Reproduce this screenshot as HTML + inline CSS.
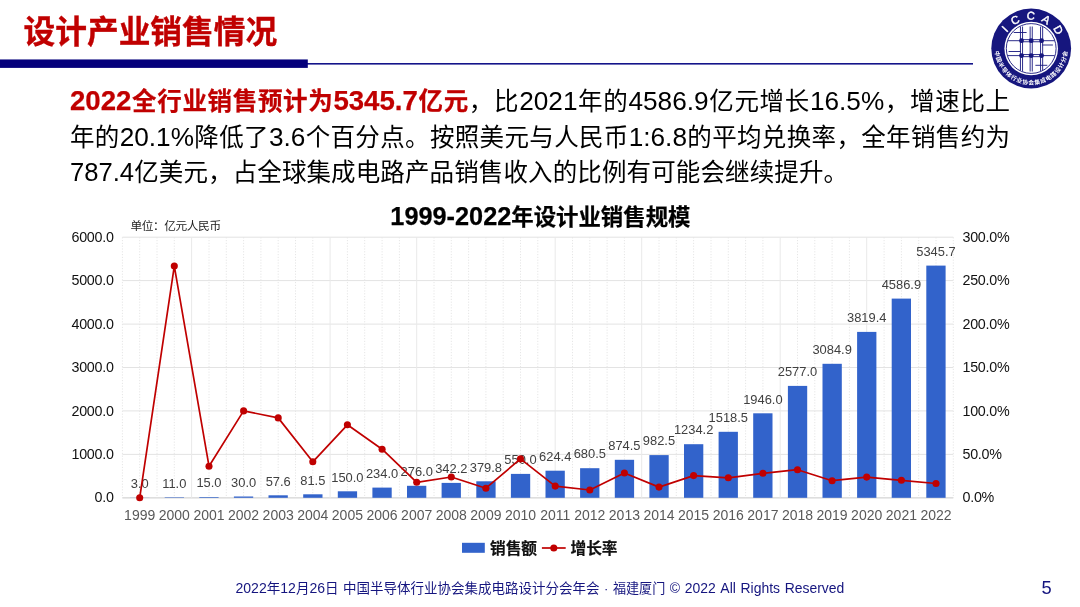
<!DOCTYPE html>
<html lang="zh-CN">
<head>
<meta charset="utf-8">
<title>设计产业销售情况</title>
<style>
html,body{margin:0;padding:0;background:#fff;}
body{width:1080px;height:607px;position:relative;overflow:hidden;font-family:"Liberation Sans","Noto Sans CJK SC",sans-serif;color:#000;}
.title{position:absolute;left:23.6px;top:9.3px;font-size:31.7px;-webkit-text-stroke:0.35px #c00000;font-weight:bold;color:#c00000;line-height:46px;white-space:nowrap;letter-spacing:0;}
.p{position:absolute;left:70px;width:940px;font-size:24.5px;line-height:36px;height:36px;white-space:nowrap;text-align:justify;text-align-last:justify;}
.p b{color:#c00000;-webkit-text-stroke:0.25px #c00000;}
.p i{font-style:normal;font-size:26.2px;}
.p b i{font-size:27.6px;}
.ct{position:absolute;left:0.4px;width:1080px;top:200.4px;text-align:center;font-size:22.4px;font-weight:bold;line-height:32px;white-space:nowrap;-webkit-text-stroke:0.25px #000;}
.ct i{font-style:normal;font-size:25.3px;}
.unit{position:absolute;left:130.4px;top:218px;font-size:11.7px;line-height:16px;color:#222;letter-spacing:-0.4px}
svg.chart,svg.logo{position:absolute;left:0;top:0;}
svg text{font-family:"Liberation Sans","Noto Sans CJK SC",sans-serif;}
.dl text{font-size:12.9px;fill:#404040;}
.ax text{font-size:14.3px;letter-spacing:-0.27px;fill:#111;}
.xl text{font-size:14px;fill:#595959;}
.lg{font-size:15.7px;font-weight:bold;fill:#111;stroke:#111;stroke-width:0.2px;}
.lt{font-size:11.2px;letter-spacing:6.3px;stroke:#fff;stroke-width:0.4px;}
.lb{font-size:5.8px;font-weight:bold;letter-spacing:0.62px;}
.foot{position:absolute;left:235.5px;top:578px;font-size:13.5px;word-spacing:0.8px;line-height:20px;color:#15157f;white-space:nowrap;}
.foot i{font-style:normal;font-size:14.05px;}
.foot u{text-decoration:none;font-size:13.1px;}
.foot i.r{font-size:13.95px;}
.pn{position:absolute;left:1041.4px;top:577px;font-size:18.3px;line-height:22px;color:#15157f;}
</style>
</head>
<body>
<div class="title">设计产业销售情况</div>
<div class="p" style="top:83px"><b><i>2022</i>全行业销售预计为<i>5345.7</i>亿元</b>，比<i>2021</i>年的<i>4586.9</i>亿元增长<i>16.5%</i>，增速比上</div>
<div class="p" style="top:118.7px">年的<i>20.1%</i>降低了<i>3.6</i>个百分点。按照美元与人民币<i>1:6.8</i>的平均兑换率，全年销售约为</div>
<div class="p" style="top:154.3px;width:778px"><i style="font-size:25.6px">787.4</i>亿美元，占全球集成电路产品销售收入的比例有可能会继续提升。</div>
<div class="ct"><i>1999-2022</i>年设计业销售规模</div>
<div class="unit">单位：亿元人民币</div>
<svg class="chart" width="1080" height="607" viewBox="0 0 1080 607">
<g stroke="#e3e3e3" stroke-width="1"><line x1="122.4" x2="953.3" y1="497.8" y2="497.8"/><line x1="122.4" x2="953.3" y1="454.4" y2="454.4"/><line x1="122.4" x2="953.3" y1="410.9" y2="410.9"/><line x1="122.4" x2="953.3" y1="367.5" y2="367.5"/><line x1="122.4" x2="953.3" y1="324.1" y2="324.1"/><line x1="122.4" x2="953.3" y1="280.6" y2="280.6"/><line x1="122.4" x2="953.3" y1="237.2" y2="237.2"/></g>
<line x1="122.4" x2="953.3" y1="497.8" y2="497.8" stroke="#dedede" stroke-width="1.5"/>
<g stroke="#e6e6e6" stroke-width="1" stroke-dasharray="1.2 1.6"><line x1="122.4" x2="122.4" y1="237.2" y2="497.8"/><line x1="139.7" x2="139.7" y1="237.2" y2="497.8"/><line x1="157.0" x2="157.0" y1="237.2" y2="497.8"/><line x1="174.3" x2="174.3" y1="237.2" y2="497.8"/><line x1="209.0" x2="209.0" y1="237.2" y2="497.8"/><line x1="226.3" x2="226.3" y1="237.2" y2="497.8"/><line x1="243.6" x2="243.6" y1="237.2" y2="497.8"/><line x1="260.9" x2="260.9" y1="237.2" y2="497.8"/><line x1="278.2" x2="278.2" y1="237.2" y2="497.8"/><line x1="295.5" x2="295.5" y1="237.2" y2="497.8"/><line x1="312.8" x2="312.8" y1="237.2" y2="497.8"/><line x1="347.4" x2="347.4" y1="237.2" y2="497.8"/><line x1="364.7" x2="364.7" y1="237.2" y2="497.8"/><line x1="382.1" x2="382.1" y1="237.2" y2="497.8"/><line x1="399.4" x2="399.4" y1="237.2" y2="497.8"/><line x1="434.0" x2="434.0" y1="237.2" y2="497.8"/><line x1="451.3" x2="451.3" y1="237.2" y2="497.8"/><line x1="468.6" x2="468.6" y1="237.2" y2="497.8"/><line x1="485.9" x2="485.9" y1="237.2" y2="497.8"/><line x1="503.2" x2="503.2" y1="237.2" y2="497.8"/><line x1="520.5" x2="520.5" y1="237.2" y2="497.8"/><line x1="537.8" x2="537.8" y1="237.2" y2="497.8"/><line x1="572.5" x2="572.5" y1="237.2" y2="497.8"/><line x1="589.8" x2="589.8" y1="237.2" y2="497.8"/><line x1="607.1" x2="607.1" y1="237.2" y2="497.8"/><line x1="624.4" x2="624.4" y1="237.2" y2="497.8"/><line x1="659.0" x2="659.0" y1="237.2" y2="497.8"/><line x1="676.3" x2="676.3" y1="237.2" y2="497.8"/><line x1="693.6" x2="693.6" y1="237.2" y2="497.8"/><line x1="711.0" x2="711.0" y1="237.2" y2="497.8"/><line x1="728.3" x2="728.3" y1="237.2" y2="497.8"/><line x1="745.6" x2="745.6" y1="237.2" y2="497.8"/><line x1="762.9" x2="762.9" y1="237.2" y2="497.8"/><line x1="797.5" x2="797.5" y1="237.2" y2="497.8"/><line x1="814.8" x2="814.8" y1="237.2" y2="497.8"/><line x1="832.1" x2="832.1" y1="237.2" y2="497.8"/><line x1="849.4" x2="849.4" y1="237.2" y2="497.8"/><line x1="884.1" x2="884.1" y1="237.2" y2="497.8"/><line x1="901.4" x2="901.4" y1="237.2" y2="497.8"/><line x1="918.7" x2="918.7" y1="237.2" y2="497.8"/><line x1="936.0" x2="936.0" y1="237.2" y2="497.8"/><line x1="953.3" x2="953.3" y1="237.2" y2="497.8"/></g>
<g stroke="#e9e9e9" stroke-width="1"><line x1="191.6" x2="191.6" y1="237.2" y2="497.8"/><line x1="330.1" x2="330.1" y1="237.2" y2="497.8"/><line x1="416.7" x2="416.7" y1="237.2" y2="497.8"/><line x1="555.2" x2="555.2" y1="237.2" y2="497.8"/><line x1="641.7" x2="641.7" y1="237.2" y2="497.8"/><line x1="780.2" x2="780.2" y1="237.2" y2="497.8"/><line x1="866.7" x2="866.7" y1="237.2" y2="497.8"/></g>
<g fill="#3263cb"><rect x="130.1" y="497.7" width="19.3" height="0.1"/><rect x="164.7" y="497.3" width="19.3" height="0.5"/><rect x="199.3" y="497.1" width="19.3" height="0.7"/><rect x="233.9" y="496.5" width="19.3" height="1.3"/><rect x="268.5" y="495.3" width="19.3" height="2.5"/><rect x="303.2" y="494.3" width="19.3" height="3.5"/><rect x="337.8" y="491.3" width="19.3" height="6.5"/><rect x="372.4" y="487.6" width="19.3" height="10.2"/><rect x="407.0" y="485.8" width="19.3" height="12.0"/><rect x="441.6" y="482.9" width="19.3" height="14.9"/><rect x="476.3" y="481.3" width="19.3" height="16.5"/><rect x="510.9" y="473.9" width="19.3" height="23.9"/><rect x="545.5" y="470.7" width="19.3" height="27.1"/><rect x="580.1" y="468.2" width="19.3" height="29.6"/><rect x="614.8" y="459.8" width="19.3" height="38.0"/><rect x="649.4" y="455.1" width="19.3" height="42.7"/><rect x="684.0" y="444.2" width="19.3" height="53.6"/><rect x="718.6" y="431.8" width="19.3" height="66.0"/><rect x="753.2" y="413.3" width="19.3" height="84.5"/><rect x="787.9" y="385.9" width="19.3" height="111.9"/><rect x="822.5" y="363.8" width="19.3" height="134.0"/><rect x="857.1" y="331.9" width="19.3" height="165.9"/><rect x="891.7" y="298.6" width="19.3" height="199.2"/><rect x="926.3" y="265.6" width="19.3" height="232.2"/></g>
<g class="dl" text-anchor="middle"><text x="139.7" y="487.9">3.0</text><text x="174.3" y="487.5">11.0</text><text x="209.0" y="487.3">15.0</text><text x="243.6" y="486.7">30.0</text><text x="278.2" y="485.5">57.6</text><text x="312.8" y="484.5">81.5</text><text x="347.4" y="481.5">150.0</text><text x="382.1" y="477.8">234.0</text><text x="416.7" y="476.0">276.0</text><text x="451.3" y="473.1">342.2</text><text x="485.9" y="471.5">379.8</text><text x="520.5" y="464.1">550.0</text><text x="555.2" y="460.9">624.4</text><text x="589.8" y="458.4">680.5</text><text x="624.4" y="450.0">874.5</text><text x="659.0" y="445.3">982.5</text><text x="693.6" y="434.4">1234.2</text><text x="728.3" y="422.0">1518.5</text><text x="762.9" y="403.5">1946.0</text><text x="797.5" y="376.1">2577.0</text><text x="832.1" y="354.0">3084.9</text><text x="866.7" y="322.1">3819.4</text><text x="901.4" y="288.8">4586.9</text><text x="936.0" y="255.8">5345.7</text></g>
<polyline points="139.7,497.8 174.3,266.1 209.0,466.2 243.6,410.9 278.2,417.9 312.8,461.8 347.4,424.8 382.1,449.2 416.7,482.3 451.3,477.0 485.9,488.2 520.5,458.9 555.2,486.1 589.8,490.0 624.4,473.0 659.0,487.1 693.6,475.6 728.3,477.8 762.9,473.3 797.5,469.7 832.1,480.7 866.7,477.1 901.4,480.3 936.0,483.5" fill="none" stroke="#c00000" stroke-width="1.7" stroke-linejoin="round"/>
<g fill="#c00000"><circle cx="139.7" cy="497.8" r="3.55"/><circle cx="174.3" cy="266.1" r="3.55"/><circle cx="209.0" cy="466.2" r="3.55"/><circle cx="243.6" cy="410.9" r="3.55"/><circle cx="278.2" cy="417.9" r="3.55"/><circle cx="312.8" cy="461.8" r="3.55"/><circle cx="347.4" cy="424.8" r="3.55"/><circle cx="382.1" cy="449.2" r="3.55"/><circle cx="416.7" cy="482.3" r="3.55"/><circle cx="451.3" cy="477.0" r="3.55"/><circle cx="485.9" cy="488.2" r="3.55"/><circle cx="520.5" cy="458.9" r="3.55"/><circle cx="555.2" cy="486.1" r="3.55"/><circle cx="589.8" cy="490.0" r="3.55"/><circle cx="624.4" cy="473.0" r="3.55"/><circle cx="659.0" cy="487.1" r="3.55"/><circle cx="693.6" cy="475.6" r="3.55"/><circle cx="728.3" cy="477.8" r="3.55"/><circle cx="762.9" cy="473.3" r="3.55"/><circle cx="797.5" cy="469.7" r="3.55"/><circle cx="832.1" cy="480.7" r="3.55"/><circle cx="866.7" cy="477.1" r="3.55"/><circle cx="901.4" cy="480.3" r="3.55"/><circle cx="936.0" cy="483.5" r="3.55"/></g>
<g class="ax"><text x="113.6" y="502.4" text-anchor="end">0.0</text><text x="962.5" y="502.4">0.0%</text><text x="113.6" y="459.0" text-anchor="end">1000.0</text><text x="962.5" y="459.0">50.0%</text><text x="113.6" y="415.5" text-anchor="end">2000.0</text><text x="962.5" y="415.5">100.0%</text><text x="113.6" y="372.1" text-anchor="end">3000.0</text><text x="962.5" y="372.1">150.0%</text><text x="113.6" y="328.7" text-anchor="end">4000.0</text><text x="962.5" y="328.7">200.0%</text><text x="113.6" y="285.2" text-anchor="end">5000.0</text><text x="962.5" y="285.2">250.0%</text><text x="113.6" y="241.8" text-anchor="end">6000.0</text><text x="962.5" y="241.8">300.0%</text></g>
<g class="xl" text-anchor="middle"><text x="139.7" y="519.8">1999</text><text x="174.3" y="519.8">2000</text><text x="209.0" y="519.8">2001</text><text x="243.6" y="519.8">2002</text><text x="278.2" y="519.8">2003</text><text x="312.8" y="519.8">2004</text><text x="347.4" y="519.8">2005</text><text x="382.1" y="519.8">2006</text><text x="416.7" y="519.8">2007</text><text x="451.3" y="519.8">2008</text><text x="485.9" y="519.8">2009</text><text x="520.5" y="519.8">2010</text><text x="555.2" y="519.8">2011</text><text x="589.8" y="519.8">2012</text><text x="624.4" y="519.8">2013</text><text x="659.0" y="519.8">2014</text><text x="693.6" y="519.8">2015</text><text x="728.3" y="519.8">2016</text><text x="762.9" y="519.8">2017</text><text x="797.5" y="519.8">2018</text><text x="832.1" y="519.8">2019</text><text x="866.7" y="519.8">2020</text><text x="901.4" y="519.8">2021</text><text x="936.0" y="519.8">2022</text></g>
<rect x="462" y="542.8" width="22.8" height="10" fill="#3263cb"/>
<line x1="541.9" x2="565.7" y1="548" y2="548" stroke="#c00000" stroke-width="1.7"/><circle cx="553.8" cy="548" r="3.55" fill="#c00000"/>
<text class="lg" x="490" y="554">销售额</text><text class="lg" x="570.5" y="554">增长率</text>
</svg>
<svg class="logo" width="1080" height="607" viewBox="0 0 1080 607">
<rect x="0" y="63.0" width="973" height="1.6" fill="#14148a"/><rect x="0" y="59.45" width="307.8" height="8.45" fill="#05007b"/>
<circle cx="1031.2" cy="48.5" r="39.9" fill="#16167e"/>
<circle cx="1031.2" cy="48.5" r="26.8" fill="#fff"/>
<circle cx="1031.2" cy="48.5" r="24.9" fill="none" stroke="#16167e" stroke-width="0.9"/>
<defs><clipPath id="lc"><circle cx="1031.2" cy="48.5" r="24.5"/></clipPath><path id="arcT" d="M 1002.50 48.5 A 28.7 28.7 0 0 1 1059.90 48.5"/><path id="arcB" d="M 994.90 48.5 A 36.3 36.3 0 0 0 1067.50 48.5"/></defs>
<text class="lt" fill="#fff" dx="4.6"><textPath href="#arcT" startOffset="50%" text-anchor="middle">ICCAD</textPath></text>
<text class="lb" fill="#fff" dx="0.3"><textPath href="#arcB" startOffset="50%" text-anchor="middle">中国半导体行业协会集成电路设计分会</textPath></text>
<g stroke="#16167e" stroke-width="0.9" fill="none" clip-path="url(#lc)"><line x1="1020.45" x2="1020.45" y1="26.50" y2="71.50"/><line x1="1022.55" x2="1022.55" y1="26.50" y2="71.50"/><line x1="1030.15" x2="1030.15" y1="26.50" y2="71.50"/><line x1="1032.25" x2="1032.25" y1="26.50" y2="71.50"/><line x1="1040.55" x2="1040.55" y1="26.50" y2="71.50"/><line x1="1042.65" x2="1042.65" y1="26.50" y2="71.50"/><line x1="1021.50" x2="1041.60" y1="39.65" y2="39.65"/><line x1="1021.50" x2="1041.60" y1="41.75" y2="41.75"/><line x1="1007.20" x2="1021.50" y1="40.70" y2="40.70"/><line x1="1041.60" x2="1055.20" y1="40.70" y2="40.70"/><line x1="1021.50" x2="1041.60" y1="54.55" y2="54.55"/><line x1="1021.50" x2="1041.60" y1="56.65" y2="56.65"/><line x1="1007.20" x2="1021.50" y1="55.60" y2="55.60"/><line x1="1041.60" x2="1055.20" y1="55.60" y2="55.60"/><line x1="1013.70" x2="1026.60" y1="32.50" y2="32.50"/><line x1="1042.20" x2="1052.90" y1="45.00" y2="45.00"/><line x1="1008.60" x2="1020.60" y1="51.50" y2="51.50"/><line x1="1035.40" x2="1047.30" y1="65.30" y2="65.30"/></g>
<g fill="#16167e"><circle cx="1021.50" cy="40.70" r="2.4"/><circle cx="1021.50" cy="55.60" r="2.4"/><circle cx="1031.20" cy="40.70" r="2.4"/><circle cx="1031.20" cy="55.60" r="2.4"/><circle cx="1041.60" cy="40.70" r="2.4"/><circle cx="1041.60" cy="55.60" r="2.4"/></g>
</svg>
<div class="foot"><i>2022</i>年<i>12</i>月<i>26</i>日 中国半导体行业协会集成电路设计分会年会 <u>· 福建厦门 </u><i class="r">© 2022 All Rights Reserved</i></div>
<div class="pn">5</div>
</body>
</html>
